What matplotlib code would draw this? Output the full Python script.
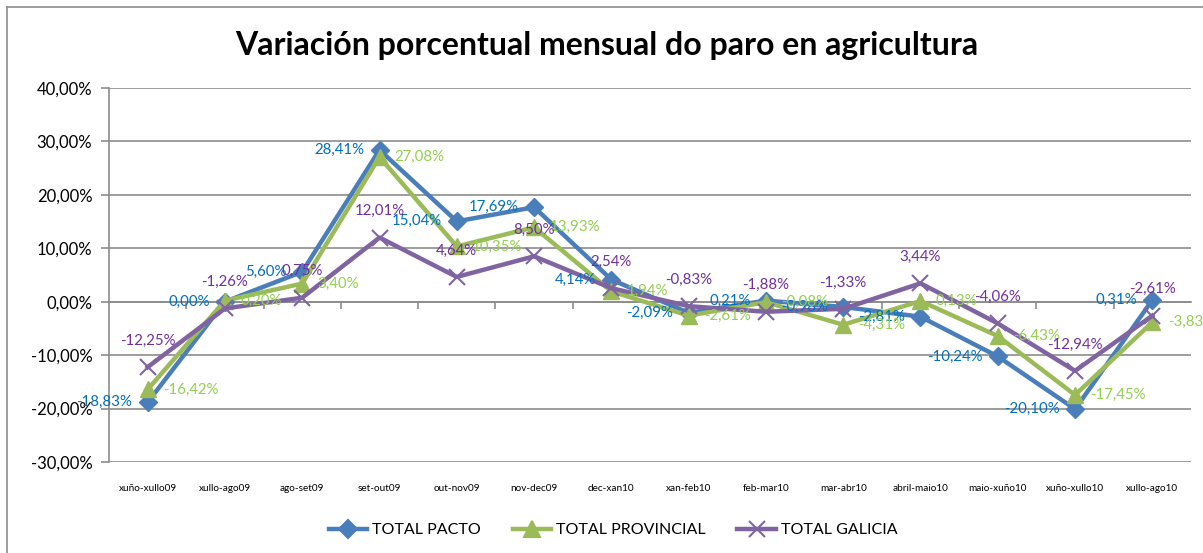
import matplotlib
matplotlib.use("Agg")
import matplotlib.pyplot as plt
from matplotlib.lines import Line2D
import matplotlib.transforms as mtransforms

categories = ["xuño-xullo09", "xullo-ago09", "ago-set09", "set-out09", "out-nov09",
              "nov-dec09", "dec-xan10", "xan-feb10", "feb-mar10", "mar-abr10",
              "abril-maio10", "maio-xuño10", "xuño-xullo10", "xullo-ago10"]
total_pacto = [-18.83, 0.00, 5.60, 28.41, 15.04, 17.69, 4.14, -2.09, 0.21, -0.98,
               -2.81, -10.24, -20.10, 0.31]
total_provincial = [-16.42, 0.20, 3.40, 27.08, 10.35, 13.93, 1.94, -2.61, -0.08, -4.31,
                    0.13, -6.43, -17.45, -3.83]
total_galicia = [-12.25, -1.26, 0.75, 12.01, 4.64, 8.50, 2.54, -0.83, -1.88, -1.33,
                 3.44, -4.06, -12.94, -2.61]
series_names = ["TOTAL PACTO", "TOTAL PROVINCIAL", "TOTAL GALICIA"]
yticks = [40, 30, 20, 10, 0, -10, -20, -30]

FONT = "Lato"
plt.rcParams['font.family'] = [FONT, 'DejaVu Sans']

W, H = 1203, 553
fig = plt.figure(figsize=(W / 100, H / 100), dpi=100)
ax = fig.add_axes([109 / W, 1 - 462 / H, (1191 - 109) / W, (462 - 88) / H])

line_cols = ["#4A7EBB", "#9BBB59", "#8064A2"]
lab_cols = ["#0070C0", "#92D050", "#7030A0"]
markers = ["D", "^", "x"]
msizes = [9, 12, 11]

x = list(range(len(categories)))
data = [total_pacto, total_provincial, total_galicia]
for i, (vals, name) in enumerate(zip(data, series_names)):
    kw = dict(marker=markers[i], markersize=msizes[i], color=line_cols[i], lw=3.2,
              label=name, zorder=3 + i * 0.1)
    if markers[i] == "x":
        kw.update(markeredgewidth=1.5)
    ax.plot(x, vals, **kw)

def fmt(v):
    return ("%.2f" % v).replace(".", ",") + "%"

LFS = 10.8
for xi, v in zip(x, total_pacto):
    ax.annotate(fmt(v), (xi, v), xytext=(-11, 0), textcoords="offset points",
                ha="right", va="center", color=lab_cols[0], fontsize=LFS, zorder=10)
for xi, v in zip(x, total_provincial):
    ax.annotate(fmt(v), (xi, v), xytext=(11, 0), textcoords="offset points",
                ha="left", va="center", color=lab_cols[1], fontsize=LFS, zorder=10)
for xi, v in zip(x, total_galicia):
    ax.annotate(fmt(v), (xi, v), xytext=(0, 19), textcoords="offset points",
                ha="center", va="center", color=lab_cols[2], fontsize=LFS, zorder=10)

ax.set_xlim(-0.5, len(categories) - 0.5)
ax.set_ylim(-30, 40)
ax.set_yticks(yticks)
ax.set_yticklabels([("%.2f" % t).replace(".", ",") + "%" for t in yticks], fontsize=12)
ax.yaxis.grid(True, color="#8C8C8C", lw=1.2)
ax.set_axisbelow(True)
ax.tick_params(axis="y", length=6, color="#8C8C8C", width=1.2, pad=6)

for s in ["top", "right"]:
    ax.spines[s].set_visible(False)
ax.spines["left"].set_color("#8C8C8C")
ax.spines["left"].set_linewidth(1.2)
ax.spines["bottom"].set_position(("data", 0))
ax.spines["bottom"].set_color("#8C8C8C")
ax.spines["bottom"].set_linewidth(1.2)
ax.set_xticks([i + 0.5 for i in range(len(categories) - 1)])
ax.set_xticklabels([])
ax.tick_params(axis="x", length=5, color="#8C8C8C", width=1.2, direction="out")

trans = mtransforms.blended_transform_factory(ax.transData, ax.transAxes)
for xi, c in zip(x, categories):
    ax.text(xi, -0.07, c, transform=trans, ha="center", va="center", fontsize=7.2)

fig.text(607 / W, 1 - 45 / H, "Variación porcentual mensual do paro en agricultura",
         ha="center", va="center", fontsize=23, fontweight="bold")

handles = [Line2D([], [], color=line_cols[i], marker=markers[i], lw=3.2,
                  markersize=msizes[i], markeredgewidth=1.5) for i in range(3)]
fig.legend(handles, series_names, loc="center", bbox_to_anchor=(613 / W, 1 - 530 / H),
           ncol=3, frameon=False, fontsize=11.5, handlelength=2.4, columnspacing=2.0,
           handletextpad=0.3)

fig.add_artist(Line2D([7 / W, 7 / W], [0, 1 - 7 / H], transform=fig.transFigure,
                      color="#8C8C8C", lw=1.2))
fig.add_artist(Line2D([7 / W, 1], [1 - 7 / H, 1 - 7 / H], transform=fig.transFigure,
                      color="#8C8C8C", lw=1.2))

fig.savefig("out.png", dpi=100)
